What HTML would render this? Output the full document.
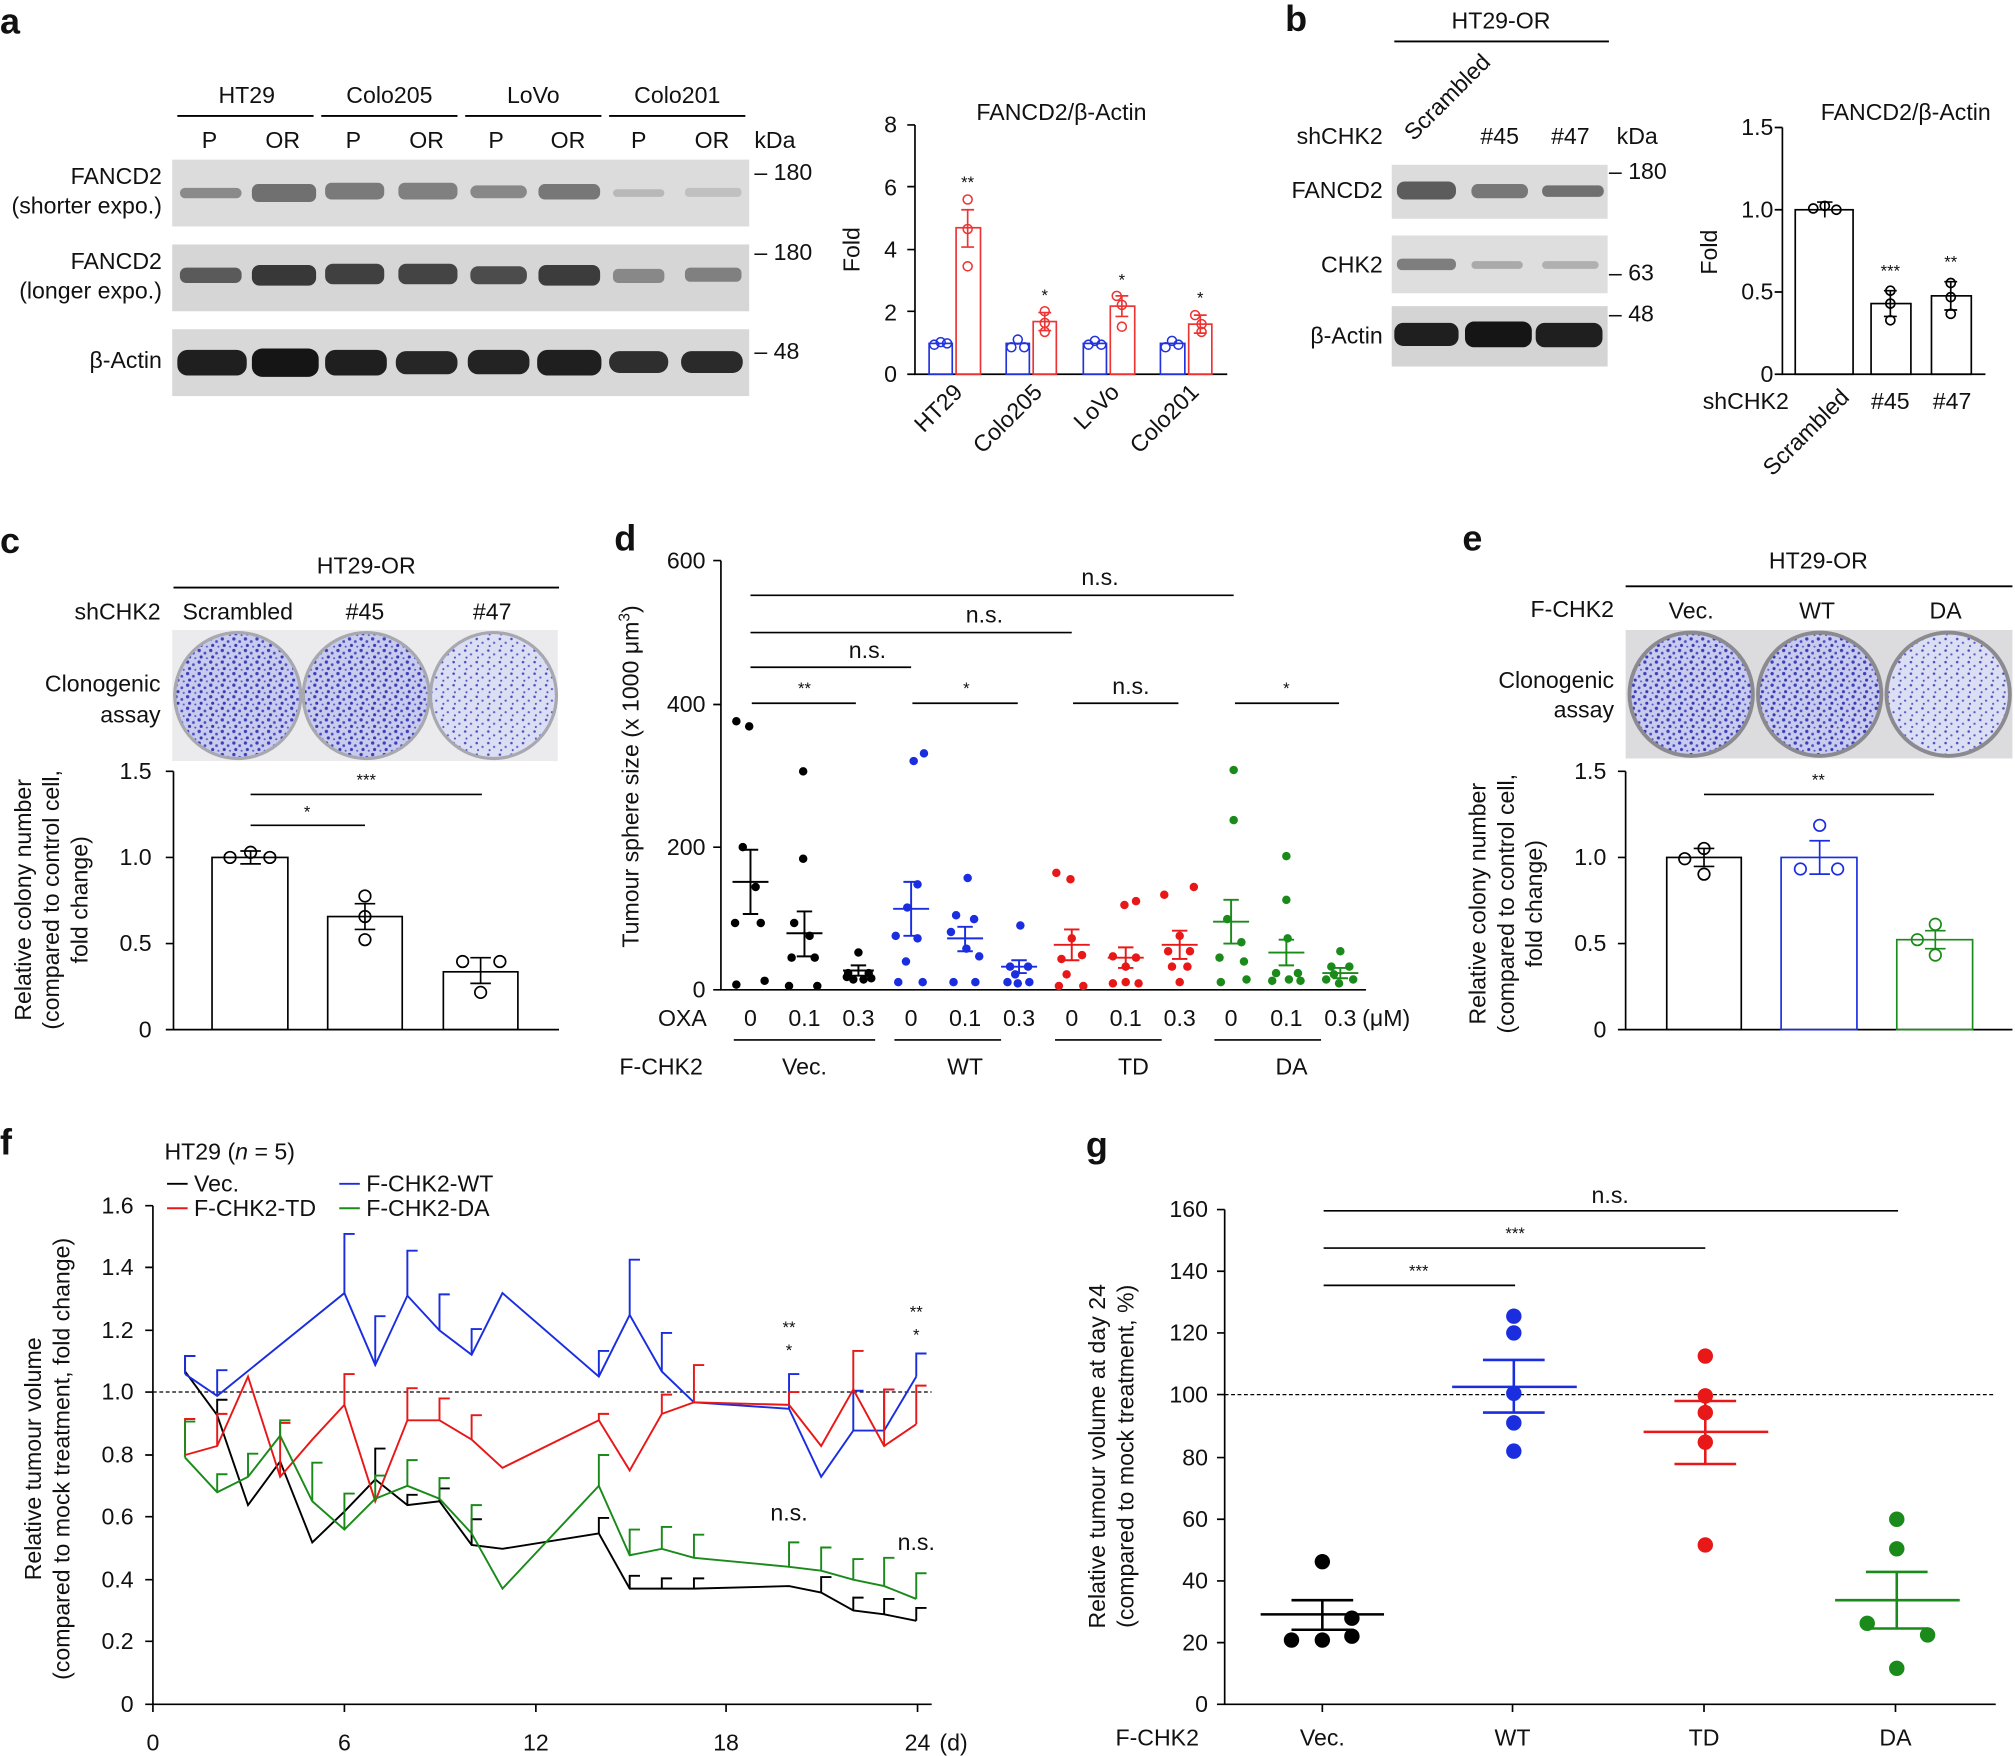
<!DOCTYPE html>
<html><head><meta charset="utf-8"><style>
html,body{margin:0;padding:0;background:#fff}
svg{display:block}
text{font-family:"Liberation Sans",sans-serif;fill:#111}
</style></head><body>
<svg width="2015" height="1756" viewBox="0 0 1568 1366" xmlns="http://www.w3.org/2000/svg">
<defs>
<pattern id="spk" width="9" height="9" patternUnits="userSpaceOnUse">
<rect width="9" height="9" fill="#c9cbee"/>
<circle cx="2" cy="2" r="1.3" fill="#3b3fb8"/><circle cx="6.5" cy="4" r="1.1" fill="#4a4ec0"/><circle cx="3.5" cy="7" r="1.2" fill="#3437b0"/><circle cx="8" cy="8" r="0.8" fill="#5558c4"/>
</pattern>
<pattern id="spk2" width="9" height="9" patternUnits="userSpaceOnUse">
<rect width="9" height="9" fill="#dcdef3"/>
<circle cx="2" cy="2" r="1" fill="#4a4ec0"/><circle cx="6.5" cy="5" r="0.9" fill="#5a5ec6"/><circle cx="3" cy="7.5" r="0.8" fill="#4a4ec0"/>
</pattern>
</defs>
<g font-size="18">
<text x="0" y="26" font-size="28" font-weight="bold">a</text>
<text x="1000" y="24" font-size="28" font-weight="bold">b</text>
<text x="0" y="430" font-size="28" font-weight="bold">c</text>
<text x="478" y="428" font-size="28" font-weight="bold">d</text>
<text x="1138" y="428" font-size="28" font-weight="bold">e</text>
<text x="0" y="898" font-size="28" font-weight="bold">f</text>
<text x="845" y="900" font-size="28" font-weight="bold">g</text>

<!-- PANEL A blots -->
<g stroke="#000" stroke-width="1.5">
<line x1="138" y1="90" x2="244" y2="90"/><line x1="250" y1="90" x2="356" y2="90"/><line x1="362" y1="90" x2="468" y2="90"/><line x1="474" y1="90" x2="580" y2="90"/>
</g>
<text x="192" y="80" text-anchor="middle">HT29</text><text x="303" y="80" text-anchor="middle">Colo205</text><text x="415" y="80" text-anchor="middle">LoVo</text><text x="527" y="80" text-anchor="middle">Colo201</text>
<g text-anchor="middle"><text x="163" y="115">P</text><text x="220" y="115">OR</text><text x="275" y="115">P</text><text x="332" y="115">OR</text><text x="386" y="115">P</text><text x="442" y="115">OR</text><text x="497" y="115">P</text><text x="554" y="115">OR</text></g>
<text x="587" y="115">kDa</text>
<rect x="134" y="124" width="449" height="52" fill="#dcdcdc"/>
<rect x="134" y="190" width="449" height="52" fill="#d6d6d6"/>
<rect x="134" y="256" width="449" height="52" fill="#d8d8d8"/>
<rect x="140" y="146" width="48" height="8" rx="4" fill="#8a8a8a"/><rect x="196" y="143" width="50" height="14" rx="5" fill="#707070"/><rect x="253" y="142" width="46" height="13" rx="5" fill="#7a7a7a"/><rect x="310" y="142" width="46" height="13" rx="5" fill="#808080"/><rect x="366" y="144" width="44" height="10" rx="5" fill="#888"/><rect x="419" y="143" width="48" height="12" rx="5" fill="#777"/><rect x="477" y="147" width="40" height="6" rx="3" fill="#b8b8b8"/><rect x="533" y="146" width="44" height="7" rx="3" fill="#c0c0c0"/>
<rect x="140" y="208" width="48" height="12" rx="5" fill="#5a5a5a"/><rect x="196" y="206" width="50" height="16" rx="6" fill="#383838"/><rect x="253" y="205" width="46" height="16" rx="6" fill="#404040"/><rect x="310" y="205" width="46" height="16" rx="6" fill="#444"/><rect x="366" y="207" width="44" height="14" rx="6" fill="#4c4c4c"/><rect x="419" y="206" width="48" height="16" rx="6" fill="#3c3c3c"/><rect x="477" y="209" width="40" height="11" rx="4" fill="#888"/><rect x="533" y="208" width="44" height="11" rx="4" fill="#808080"/>
<rect x="138" y="272" width="54" height="20" rx="8" fill="#1f1f1f"/><rect x="196" y="271" width="52" height="22" rx="8" fill="#151515"/><rect x="253" y="272" width="48" height="20" rx="8" fill="#1f1f1f"/><rect x="308" y="273" width="48" height="18" rx="8" fill="#262626"/><rect x="364" y="272" width="48" height="19" rx="8" fill="#232323"/><rect x="418" y="272" width="50" height="20" rx="8" fill="#1f1f1f"/><rect x="474" y="273" width="46" height="17" rx="8" fill="#2e2e2e"/><rect x="530" y="273" width="48" height="17" rx="8" fill="#2a2a2a"/>
<text x="126" y="143" text-anchor="end">FANCD2</text><text x="126" y="166" text-anchor="end">(shorter expo.)</text>
<text x="126" y="209" text-anchor="end">FANCD2</text><text x="126" y="232" text-anchor="end">(longer expo.)</text>
<text x="126" y="286" text-anchor="end">β-Actin</text>
<text x="587" y="140">– 180</text><text x="587" y="202">– 180</text><text x="587" y="279">– 48</text>

<!-- PANEL A bar chart -->
<text x="826" y="93" text-anchor="middle">FANCD2/β-Actin</text>
<g stroke="#000" stroke-width="1.3" fill="none">
<path d="M712,97V291H955"/>
<path d="M706,97h6M706,145h6M706,194h6M706,242h6M706,291h6"/>
</g>
<g text-anchor="end"><text x="698" y="103">8</text><text x="698" y="152">6</text><text x="698" y="200">4</text><text x="698" y="249">2</text><text x="698" y="297">0</text></g>
<text transform="translate(669,194) rotate(-90)" text-anchor="middle">Fold</text>
<g fill="none" stroke-width="1.3">
<rect x="723" y="267" width="18" height="24" stroke="#2233dd"/><rect x="744" y="177" width="19" height="114" stroke="#e33"/>
<rect x="783" y="267" width="18" height="24" stroke="#2233dd"/><rect x="804" y="250" width="18" height="41" stroke="#e33"/>
<rect x="843" y="267" width="18" height="24" stroke="#2233dd"/><rect x="864" y="238" width="19" height="53" stroke="#e33"/>
<rect x="903" y="267" width="19" height="24" stroke="#2233dd"/><rect x="925" y="252" width="18" height="39" stroke="#e33"/>
<path d="M748,163h10M753,163v29M748,192h10M808,243h10M813,243v14M808,257h10M868,230h10M873,230v16M868,246h10M929,245h10M934,245v14M929,259h10" stroke="#e33"/>
</g>
<g fill="none" stroke-width="1.2" stroke="#2233dd"><circle cx="727" cy="268" r="3.5"/><circle cx="732" cy="266" r="3.5"/><circle cx="737" cy="267" r="3.5"/><circle cx="787" cy="270" r="3.5"/><circle cx="792" cy="264" r="3.5"/><circle cx="797" cy="270" r="3.5"/><circle cx="847" cy="268" r="3.5"/><circle cx="852" cy="265" r="3.5"/><circle cx="857" cy="268" r="3.5"/><circle cx="907" cy="270" r="3.5"/><circle cx="912" cy="265" r="3.5"/><circle cx="917" cy="268" r="3.5"/></g>
<g fill="none" stroke-width="1.2" stroke="#e33"><circle cx="753" cy="155" r="3.5"/><circle cx="753" cy="178" r="3.5"/><circle cx="753" cy="207" r="3.5"/><circle cx="813" cy="242" r="3.5"/><circle cx="813" cy="251" r="3.5"/><circle cx="813" cy="258" r="3.5"/><circle cx="869" cy="230" r="3.5"/><circle cx="873" cy="237" r="3.5"/><circle cx="873" cy="254" r="3.5"/><circle cx="930" cy="245" r="3.5"/><circle cx="935" cy="252" r="3.5"/><circle cx="935" cy="258" r="3.5"/></g>
<g font-size="13" text-anchor="middle"><text x="753" y="146">**</text><text x="813" y="234">*</text><text x="873" y="222">*</text><text x="934" y="236">*</text></g>
<g text-anchor="end"><text transform="translate(750,306) rotate(-45)">HT29</text><text transform="translate(812,306) rotate(-45)">Colo205</text><text transform="translate(872,306) rotate(-45)">LoVo</text><text transform="translate(934,306) rotate(-45)">Colo201</text></g>

<!-- PANEL B -->
<text x="1168" y="22" text-anchor="middle">HT29-OR</text>
<line x1="1085" y1="32" x2="1252" y2="32" stroke="#000" stroke-width="1.5"/>
<text transform="translate(1100,110) rotate(-45)">Scrambled</text>
<text x="1167" y="112" text-anchor="middle">#45</text><text x="1222" y="112" text-anchor="middle">#47</text>
<text x="1076" y="112" text-anchor="end">shCHK2</text><text x="1258" y="112">kDa</text>
<rect x="1083" y="128" width="168" height="42" fill="#dcdcdc"/>
<rect x="1083" y="183" width="168" height="45" fill="#dedede"/>
<rect x="1083" y="238" width="168" height="47" fill="#d4d4d4"/>
<rect x="1087" y="141" width="46" height="14" rx="6" fill="#5c5c5c"/><rect x="1145" y="143" width="44" height="11" rx="5" fill="#777"/><rect x="1200" y="144" width="48" height="9" rx="4" fill="#707070"/>
<rect x="1087" y="201" width="46" height="9" rx="4" fill="#7e7e7e"/><rect x="1145" y="203" width="40" height="6" rx="3" fill="#aaa"/><rect x="1200" y="203" width="44" height="6" rx="3" fill="#b0b0b0"/>
<rect x="1085" y="251" width="50" height="18" rx="7" fill="#1f1f1f"/><rect x="1140" y="250" width="52" height="20" rx="7" fill="#151515"/><rect x="1195" y="251" width="52" height="19" rx="7" fill="#1f1f1f"/>
<text x="1076" y="154" text-anchor="end">FANCD2</text><text x="1076" y="212" text-anchor="end">CHK2</text><text x="1076" y="267" text-anchor="end">β-Actin</text>
<text x="1252" y="139">– 180</text><text x="1252" y="218">– 63</text><text x="1252" y="250">– 48</text>
<text x="1483" y="93" text-anchor="middle">FANCD2/β-Actin</text>
<g stroke="#000" stroke-width="1.3" fill="none">
<path d="M1387,99V291H1545"/><path d="M1381,99h6M1381,163h6M1381,227h6M1381,291h6"/>
<rect x="1397" y="163" width="45" height="128"/><rect x="1456" y="236" width="31" height="55"/><rect x="1503" y="230" width="31" height="61"/>
<path d="M1414,157h12M1420,157v12M1466,226h10M1471,226v20M1466,246h10M1513,219h10M1518,219v22M1513,241h10"/>
<circle cx="1411" cy="162" r="3.5"/><circle cx="1420" cy="160" r="3.5"/><circle cx="1429" cy="163" r="3.5"/><circle cx="1471" cy="226" r="3.5"/><circle cx="1471" cy="236" r="3.5"/><circle cx="1471" cy="249" r="3.5"/><circle cx="1518" cy="220" r="3.5"/><circle cx="1518" cy="231" r="3.5"/><circle cx="1518" cy="244" r="3.5"/>
</g>
<g text-anchor="end"><text x="1380" y="105">1.5</text><text x="1380" y="169">1.0</text><text x="1380" y="233">0.5</text><text x="1380" y="297">0</text></g>
<text transform="translate(1336,196) rotate(-90)" text-anchor="middle">Fold</text>
<g font-size="13" text-anchor="middle"><text x="1471" y="215">***</text><text x="1518" y="208">**</text></g>
<text x="1392" y="318" text-anchor="end">shCHK2</text>
<text transform="translate(1440,310) rotate(-45)" text-anchor="end">Scrambled</text>
<text x="1471" y="318" text-anchor="middle">#45</text><text x="1519" y="318" text-anchor="middle">#47</text>

<!-- PANEL C -->
<text x="285" y="446" text-anchor="middle">HT29-OR</text>
<line x1="135" y1="457" x2="435" y2="457" stroke="#000" stroke-width="1.5"/>
<text x="125" y="482" text-anchor="end">shCHK2</text>
<text x="185" y="482" text-anchor="middle">Scrambled</text><text x="284" y="482" text-anchor="middle">#45</text><text x="383" y="482" text-anchor="middle">#47</text>
<rect x="134" y="490" width="300" height="102" fill="#ebebed"/>
<g stroke="#a8a8b0" stroke-width="2.5"><circle cx="185" cy="541" r="49" fill="url(#spk)"/><circle cx="285" cy="541" r="49" fill="url(#spk)"/><circle cx="384" cy="541" r="49" fill="url(#spk2)"/></g>
<text x="125" y="538" text-anchor="end">Clonogenic</text><text x="125" y="562" text-anchor="end">assay</text>
<g stroke="#000" stroke-width="1.3" fill="none">
<path d="M135,600V801H435"/><path d="M129,600h6M129,667h6M129,734h6M129,801h6"/>
<rect x="165" y="667" width="59" height="134"/><rect x="255" y="713" width="58" height="88"/><rect x="345" y="756" width="58" height="45"/>
<path d="M187,662h16M195,662v10M187,672h16M276,703h16M284,703v20M276,723h16M366,745h16M374,745v20M366,765h16"/>
<circle cx="179" cy="667" r="4.5"/><circle cx="195" cy="663" r="4.5"/><circle cx="210" cy="667" r="4.5"/><circle cx="284" cy="697" r="4.5"/><circle cx="284" cy="713" r="4.5"/><circle cx="284" cy="731" r="4.5"/><circle cx="360" cy="748" r="4.5"/><circle cx="389" cy="748" r="4.5"/><circle cx="374" cy="772" r="4.5"/>
<path d="M195,642H284M195,618H375"/>
</g>
<g text-anchor="end"><text x="118" y="606">1.5</text><text x="118" y="673">1.0</text><text x="118" y="740">0.5</text><text x="118" y="807">0</text></g>
<g font-size="13" text-anchor="middle"><text x="239" y="636">*</text><text x="285" y="611">***</text></g>
<g text-anchor="middle"><text transform="translate(24,700) rotate(-90)">Relative colony number</text><text transform="translate(46,700) rotate(-90)">(compared to control cell,</text><text transform="translate(68,700) rotate(-90)">fold change)</text></g>

<!-- PANEL D -->
<g stroke="#000" stroke-width="1.3" fill="none">
<path d="M561,436V770H1063"/><path d="M555,436h6M555,548h6M555,659h6M555,770h6"/>
<path d="M584,463H960M584,492H834M584,519H709M585,547H666M710,547H792M835,547H917M961,547H1042"/>
<path d="M571,809H681M696,809H779M821,809H904M945,809H1028"/>
</g>
<g text-anchor="end"><text x="549" y="442">600</text><text x="549" y="554">400</text><text x="549" y="665">200</text><text x="549" y="776">0</text></g>
<text transform="translate(497,604) rotate(-90)" text-anchor="middle">Tumour sphere size (x 1000 μm<tspan font-size="12" dy="-7">3</tspan><tspan dy="7">)</tspan></text>
<g text-anchor="middle"><text x="856" y="455">n.s.</text><text x="766" y="484">n.s.</text><text x="675" y="512">n.s.</text><text x="880" y="540">n.s.</text></g>
<g font-size="13" text-anchor="middle"><text x="626" y="540">**</text><text x="752" y="540">*</text><text x="1001" y="540">*</text></g>
<text x="550" y="798" text-anchor="end">OXA</text>
<g text-anchor="middle"><text x="584" y="798">0</text><text x="626" y="798">0.1</text><text x="668" y="798">0.3</text><text x="709" y="798">0</text><text x="751" y="798">0.1</text><text x="793" y="798">0.3</text><text x="834" y="798">0</text><text x="876" y="798">0.1</text><text x="918" y="798">0.3</text><text x="958" y="798">0</text><text x="1001" y="798">0.1</text><text x="1043" y="798">0.3</text></g>
<text x="1060" y="798">(μM)</text>
<text x="482" y="836">F-CHK2</text>
<g text-anchor="middle"><text x="626" y="836">Vec.</text><text x="751" y="836">WT</text><text x="882" y="836">TD</text><text x="1005" y="836">DA</text></g>
<g fill="#000"><circle cx="573" cy="561" r="3.3"/><circle cx="583" cy="565" r="3.3"/><circle cx="578" cy="659" r="3.3"/><circle cx="588" cy="690" r="3.3"/><circle cx="572" cy="718" r="3.3"/><circle cx="592" cy="718" r="3.3"/><circle cx="573" cy="766" r="3.3"/><circle cx="595" cy="763" r="3.3"/>
<circle cx="625" cy="600" r="3.3"/><circle cx="625" cy="668" r="3.3"/><circle cx="618" cy="718" r="3.3"/><circle cx="630" cy="728" r="3.3"/><circle cx="616" cy="745" r="3.3"/><circle cx="634" cy="745" r="3.3"/><circle cx="614" cy="767" r="3.3"/><circle cx="636" cy="767" r="3.3"/>
<circle cx="668" cy="741" r="3.3"/><circle cx="660" cy="757" r="3.3"/><circle cx="676" cy="757" r="3.3"/><circle cx="664" cy="762" r="3.3"/><circle cx="672" cy="762" r="3.3"/><circle cx="659" cy="760" r="3.3"/><circle cx="678" cy="761" r="3.3"/></g>
<g fill="#1a2ee0"><circle cx="711" cy="592" r="3.3"/><circle cx="719" cy="586" r="3.3"/><circle cx="714" cy="688" r="3.3"/><circle cx="706" cy="706" r="3.3"/><circle cx="697" cy="728" r="3.3"/><circle cx="714" cy="730" r="3.3"/><circle cx="705" cy="748" r="3.3"/><circle cx="699" cy="764" r="3.3"/><circle cx="718" cy="764" r="3.3"/>
<circle cx="753" cy="683" r="3.3"/><circle cx="744" cy="712" r="3.3"/><circle cx="758" cy="715" r="3.3"/><circle cx="740" cy="725" r="3.3"/><circle cx="752" cy="738" r="3.3"/><circle cx="762" cy="744" r="3.3"/><circle cx="742" cy="764" r="3.3"/><circle cx="759" cy="764" r="3.3"/>
<circle cx="794" cy="720" r="3.3"/><circle cx="786" cy="752" r="3.3"/><circle cx="800" cy="752" r="3.3"/><circle cx="784" cy="764" r="3.3"/><circle cx="792" cy="765" r="3.3"/><circle cx="801" cy="764" r="3.3"/><circle cx="790" cy="758" r="3.3"/></g>
<g fill="#e81818"><circle cx="822" cy="679" r="3.3"/><circle cx="833" cy="684" r="3.3"/><circle cx="834" cy="730" r="3.3"/><circle cx="826" cy="746" r="3.3"/><circle cx="842" cy="743" r="3.3"/><circle cx="824" cy="767" r="3.3"/><circle cx="843" cy="767" r="3.3"/><circle cx="830" cy="758" r="3.3"/>
<circle cx="884" cy="701" r="3.3"/><circle cx="875" cy="704" r="3.3"/><circle cx="866" cy="744" r="3.3"/><circle cx="884" cy="745" r="3.3"/><circle cx="876" cy="752" r="3.3"/><circle cx="866" cy="765" r="3.3"/><circle cx="886" cy="765" r="3.3"/><circle cx="876" cy="764" r="3.3"/>
<circle cx="906" cy="696" r="3.3"/><circle cx="929" cy="690" r="3.3"/><circle cx="918" cy="728" r="3.3"/><circle cx="909" cy="740" r="3.3"/><circle cx="926" cy="740" r="3.3"/><circle cx="912" cy="752" r="3.3"/><circle cx="924" cy="752" r="3.3"/><circle cx="918" cy="764" r="3.3"/></g>
<g fill="#1a8a1a"><circle cx="960" cy="599" r="3.3"/><circle cx="960" cy="638" r="3.3"/><circle cx="955" cy="715" r="3.3"/><circle cx="966" cy="733" r="3.3"/><circle cx="949" cy="745" r="3.3"/><circle cx="968" cy="748" r="3.3"/><circle cx="950" cy="764" r="3.3"/><circle cx="970" cy="762" r="3.3"/>
<circle cx="1001" cy="666" r="3.3"/><circle cx="1001" cy="700" r="3.3"/><circle cx="1002" cy="730" r="3.3"/><circle cx="993" cy="757" r="3.3"/><circle cx="1010" cy="757" r="3.3"/><circle cx="990" cy="763" r="3.3"/><circle cx="1003" cy="762" r="3.3"/><circle cx="1012" cy="763" r="3.3"/>
<circle cx="1043" cy="740" r="3.3"/><circle cx="1036" cy="752" r="3.3"/><circle cx="1050" cy="752" r="3.3"/><circle cx="1032" cy="762" r="3.3"/><circle cx="1042" cy="765" r="3.3"/><circle cx="1053" cy="762" r="3.3"/><circle cx="1038" cy="758" r="3.3"/></g>
<g fill="none" stroke-width="1.5">
<path d="M570,686H598M578,661H590M584,661V711M578,711H590M612,726H640M620,709H632M626,709V744M620,744H632M656,755H680M662,751H674M668,751V759M662,759H674" stroke="#000"/>
<path d="M695,707H723M703,686H715M709,686V728M703,728H715M737,730H765M745,721H757M751,721V740M745,740H757M779,752H807M787,747H799M793,747V757M787,757H799" stroke="#1a2ee0"/>
<path d="M820,735H848M828,723H840M834,723V747M828,747H840M862,745H890M870,737H882M876,737V753M870,753H882M904,735H932M912,724H924M918,724V746M912,746H924" stroke="#e81818"/>
<path d="M944,717H972M952,700H964M958,700V734M952,734H964M987,741H1015M995,731H1007M1001,731V751M995,751H1007M1029,757H1057M1037,753H1049M1043,753V761M1037,761H1049" stroke="#1a8a1a"/>
</g>

<!-- PANEL E -->
<text x="1415" y="442" text-anchor="middle">HT29-OR</text>
<line x1="1265" y1="456" x2="1566" y2="456" stroke="#000" stroke-width="1.5"/>
<text x="1256" y="480" text-anchor="end">F-CHK2</text>
<g text-anchor="middle"><text x="1316" y="481">Vec.</text><text x="1414" y="481">WT</text><text x="1514" y="481">DA</text></g>
<rect x="1265" y="490" width="301" height="100" fill="#dcdcde"/>
<g stroke="#8a8a90" stroke-width="3"><circle cx="1316" cy="540" r="48" fill="url(#spk)"/><circle cx="1416" cy="540" r="48" fill="url(#spk)"/><circle cx="1516" cy="540" r="48" fill="url(#spk2)"/></g>
<text x="1256" y="535" text-anchor="end">Clonogenic</text><text x="1256" y="558" text-anchor="end">assay</text>
<g stroke="#000" stroke-width="1.3" fill="none">
<path d="M1265,600V801H1566"/><path d="M1259,600h6M1259,667h6M1259,734h6M1259,801h6"/>
<rect x="1297" y="667" width="58" height="134"/>
<path d="M1318,660h16M1326,660v14M1318,674h16"/>
<circle cx="1326" cy="660" r="4.5"/><circle cx="1311" cy="668" r="4.5"/><circle cx="1326" cy="680" r="4.5"/>
<path d="M1326,618H1505"/>
</g>
<g fill="none" stroke="#1a2ee0" stroke-width="1.3"><rect x="1386" y="667" width="59" height="134"/><path d="M1408,654h16M1416,654v26M1408,680h16"/><circle cx="1416" cy="642" r="4.5"/><circle cx="1401" cy="676" r="4.5"/><circle cx="1430" cy="676" r="4.5"/></g>
<g fill="none" stroke="#1a8a1a" stroke-width="1.3"><rect x="1476" y="731" width="59" height="70"/><path d="M1498,724h16M1506,724v14M1498,738h16"/><circle cx="1506" cy="719" r="4.5"/><circle cx="1492" cy="731" r="4.5"/><circle cx="1506" cy="743" r="4.5"/></g>
<g text-anchor="end"><text x="1250" y="606">1.5</text><text x="1250" y="673">1.0</text><text x="1250" y="740">0.5</text><text x="1250" y="807">0</text></g>
<text x="1415" y="611" font-size="13" text-anchor="middle">**</text>
<g text-anchor="middle"><text transform="translate(1156,703) rotate(-90)">Relative colony number</text><text transform="translate(1178,703) rotate(-90)">(compared to control cell,</text><text transform="translate(1200,703) rotate(-90)">fold change)</text></g>

<!-- PANEL F -->
<text x="128" y="902">HT29 (<tspan font-style="italic">n</tspan> = 5)</text>
<line x1="130" y1="921" x2="146" y2="921" stroke="#000" stroke-width="1.5"/><text x="151" y="927">Vec.</text>
<line x1="264" y1="921" x2="280" y2="921" stroke="#1a2ee0" stroke-width="1.5"/><text x="285" y="927">F-CHK2-WT</text>
<line x1="130" y1="940" x2="146" y2="940" stroke="#e81818" stroke-width="1.5"/><text x="151" y="946">F-CHK2-TD</text>
<line x1="264" y1="940" x2="280" y2="940" stroke="#1a8a1a" stroke-width="1.5"/><text x="285" y="946">F-CHK2-DA</text>
<g stroke="#000" stroke-width="1.3" fill="none">
<path d="M119,938V1326H725"/>
<path d="M113,938h6M113,986h6M113,1035h6M113,1083h6M113,1132h6M113,1180h6M113,1229h6M113,1277h6M113,1326h6"/>
<path d="M119,1326v6M268,1326v6M417,1326v6M565,1326v6M714,1326v6"/>
</g>
<line x1="119" y1="1083" x2="725" y2="1083" stroke="#000" stroke-width="1" stroke-dasharray="3,2"/>
<g text-anchor="end"><text x="104" y="944">1.6</text><text x="104" y="992">1.4</text><text x="104" y="1041">1.2</text><text x="104" y="1089">1.0</text><text x="104" y="1138">0.8</text><text x="104" y="1186">0.6</text><text x="104" y="1235">0.4</text><text x="104" y="1283">0.2</text><text x="104" y="1332">0</text></g>
<g text-anchor="middle"><text x="119" y="1362">0</text><text x="268" y="1362">6</text><text x="417" y="1362">12</text><text x="565" y="1362">18</text><text x="714" y="1362">24</text></g><text x="731" y="1362">(d)</text>
<g text-anchor="middle"><text transform="translate(32,1135) rotate(-90)">Relative tumour volume</text><text transform="translate(54,1135) rotate(-90)">(compared to mock treatment, fold change)</text></g>
<g fill="none" stroke-width="1.5">
<polyline stroke="#000" points="144,1067 169,1101 193,1171 218,1137 243,1200 268,1176 292,1151 317,1171 342,1168 367,1202 391,1205 466,1193 490,1236 515,1236 540,1236 614,1234 639,1239 664,1253 688,1256 713,1261"/>
<path stroke="#000" d="M144,1067v-12h8M169,1101v-12h8M292,1151v-24h8M317,1171v-8h8M342,1168v-10h8M367,1202v-20h8M466,1193v-12h8M490,1236v-10h8M515,1236v-8h8M540,1236v-8h8M639,1239v-12h8M664,1253v-10h8M688,1256v-12h8M713,1261v-10h8"/>
<polyline stroke="#1a2ee0" points="144,1069 169,1086 268,1006 292,1062 317,1008 342,1035 367,1054 391,1006 466,1071 490,1023 515,1067 540,1091 614,1096 639,1149 664,1113 688,1113 713,1071"/>
<path stroke="#1a2ee0" d="M144,1069v-14h8M169,1086v-20h8M268,1006v-46h8M292,1062v-38h8M317,1008v-35h8M342,1035v-28h8M367,1054v-20h8M466,1071v-20h8M490,1023v-43h8M515,1067v-30h8M614,1096v-27h8M664,1113v-31h8M688,1113v-32h8M713,1071v-18h8"/>
<polyline stroke="#e81818" points="144,1132 169,1125 193,1071 218,1149 243,1120 268,1093 292,1168 317,1105 342,1105 367,1120 391,1142 466,1105 490,1144 515,1100 540,1091 614,1093 639,1125 664,1081 688,1125 713,1108"/>
<path stroke="#e81818" d="M144,1132v-28h8M169,1125v-25h8M218,1149v-42h8M268,1093v-24h8M317,1105v-25h8M342,1105v-17h8M367,1120v-19h8M466,1105v-5h8M515,1100v-15h8M540,1091v-29h8M614,1093v-10h8M664,1081v-30h8M688,1125v-44h8M713,1108v-30h8"/>
<polyline stroke="#1a8a1a" points="144,1134 169,1161 193,1149 218,1117 243,1168 268,1190 292,1166 317,1156 342,1166 367,1193 391,1236 466,1156 490,1210 515,1205 540,1212 614,1219 639,1222 664,1229 688,1234 713,1244"/>
<path stroke="#1a8a1a" d="M144,1134v-28h8M169,1161v-14h8M193,1149v-18h8M218,1117v-12h8M243,1168v-30h8M268,1190v-28h8M292,1166v-18h8M317,1156v-20h8M342,1166v-16h8M367,1193v-22h8M466,1156v-24h8M490,1210v-20h8M515,1205v-17h8M540,1212v-18h8M614,1219v-19h8M639,1222v-18h8M664,1229v-16h8M688,1234v-22h8M713,1244v-20h8"/>
</g>
<g font-size="13" text-anchor="middle"><text x="614" y="1037" fill="#e81818">**</text><text x="614" y="1055" fill="#1a2ee0">*</text><text x="713" y="1025" fill="#e81818">**</text><text x="713" y="1043" fill="#1a2ee0">*</text></g>
<text x="614" y="1183" text-anchor="middle" fill="#1a8a1a">n.s.</text><text x="713" y="1206" text-anchor="middle" fill="#1a8a1a">n.s.</text>

<!-- PANEL G -->
<g stroke="#000" stroke-width="1.3" fill="none">
<path d="M953,941V1326H1553"/>
<path d="M947,941h6M947,989h6M947,1037h6M947,1085h6M947,1134h6M947,1182h6M947,1230h6M947,1278h6M947,1326h6"/>
<path d="M1029,1326v6M1177,1326v6M1326,1326v6M1475,1326v6"/>
<path d="M1030,942H1477M1030,971H1327M1030,1000H1179"/>
</g>
<line x1="953" y1="1085" x2="1553" y2="1085" stroke="#000" stroke-width="1" stroke-dasharray="3,2"/>
<g text-anchor="end"><text x="940" y="947">160</text><text x="940" y="995">140</text><text x="940" y="1043">120</text><text x="940" y="1091">100</text><text x="940" y="1140">80</text><text x="940" y="1188">60</text><text x="940" y="1236">40</text><text x="940" y="1284">20</text><text x="940" y="1332">0</text></g>
<g text-anchor="middle"><text transform="translate(860,1133) rotate(-90)">Relative tumour volume at day 24</text><text transform="translate(882,1133) rotate(-90)">(compared to mock treatment, %)</text></g>
<text x="1253" y="936" text-anchor="middle">n.s.</text>
<g font-size="13" text-anchor="middle"><text x="1179" y="964">***</text><text x="1104" y="993">***</text></g>
<text x="868" y="1358">F-CHK2</text>
<g text-anchor="middle"><text x="1029" y="1358">Vec.</text><text x="1177" y="1358">WT</text><text x="1326" y="1358">TD</text><text x="1475" y="1358">DA</text></g>
<g fill="#000"><circle cx="1029" cy="1215" r="6"/><circle cx="1052" cy="1259" r="6"/><circle cx="1005" cy="1276" r="6"/><circle cx="1029" cy="1276" r="6"/><circle cx="1052" cy="1273" r="6"/></g>
<g fill="#1a2ee0"><circle cx="1178" cy="1024" r="6"/><circle cx="1178" cy="1037" r="6"/><circle cx="1178" cy="1084" r="6"/><circle cx="1178" cy="1107" r="6"/><circle cx="1178" cy="1129" r="6"/></g>
<g fill="#e81818"><circle cx="1327" cy="1055" r="6"/><circle cx="1327" cy="1086" r="6"/><circle cx="1327" cy="1099" r="6"/><circle cx="1327" cy="1122" r="6"/><circle cx="1327" cy="1202" r="6"/></g>
<g fill="#1a8a1a"><circle cx="1476" cy="1182" r="6"/><circle cx="1476" cy="1205" r="6"/><circle cx="1453" cy="1263" r="6"/><circle cx="1500" cy="1272" r="6"/><circle cx="1476" cy="1298" r="6"/></g>
<g fill="none" stroke-width="2">
<path stroke="#000" d="M981,1256H1077M1005,1245H1053M1029,1245V1268M1005,1268H1053"/>
<path stroke="#1a2ee0" d="M1130,1079H1227M1154,1058H1202M1178,1058V1099M1154,1099H1202"/>
<path stroke="#e81818" d="M1279,1114H1376M1303,1090H1351M1327,1090V1139M1303,1139H1351"/>
<path stroke="#1a8a1a" d="M1428,1245H1525M1452,1223H1500M1476,1223V1267M1452,1267H1500"/>
</g>
</g>
</svg>
</body></html>
